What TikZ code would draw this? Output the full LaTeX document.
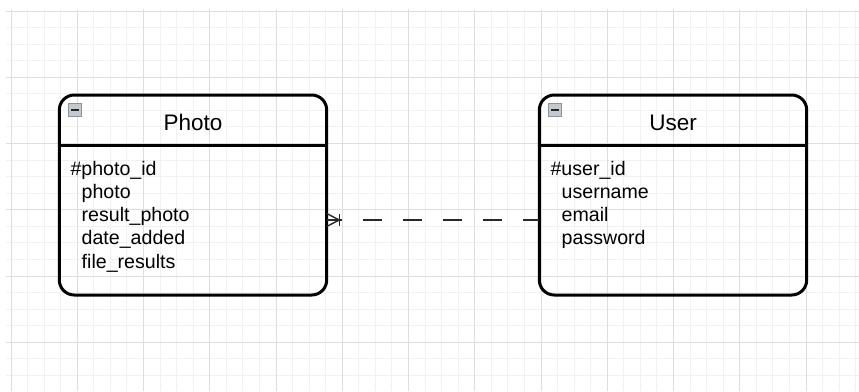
\documentclass[tikz,border=0pt]{standalone}
\usepackage{fontspec}
\setmainfont{Liberation Sans}
\definecolor{gridminor}{RGB}{241,241,241}
\definecolor{gridmajor}{RGB}{222,222,222}
\definecolor{iconfill}{RGB}{196,200,208}
\definecolor{iconedge}{RGB}{140,146,156}
\definecolor{linkcol}{RGB}{40,40,40}
\begin{document}
\begin{tikzpicture}[x=1pt,y=-1pt,
  minorline/.style={draw=gridminor,line width=1pt},
  majorline/.style={draw=gridmajor,line width=1pt},
  entity/.style={draw,line width=3pt,rounded corners=15pt,
    minimum width=267.4pt,minimum height=200pt,inner sep=0pt,outer sep=0pt},
  sepline/.style={line width=3pt},
  titletext/.style={anchor=base,inner sep=0pt,font=\fontsize{22.5}{27}\selectfont},
  attrtext/.style={anchor=base west,inner sep=0pt,font=\fontsize{19.6}{23}\selectfont},
  collapseicon/.style={draw=iconedge,fill=iconfill,line width=1pt,
    minimum size=13pt,inner sep=0pt,outer sep=0pt},
  minusbar/.style={draw=black!85,line width=2.2pt},
  link/.style={draw=linkcol,line width=1.4pt}]
\useasboundingbox (0,0) rectangle (859,391);

% background grid
\foreach \i in {0,...,51}
  \draw[minorline] ({11+16.5625*\i},9) -- ({11+16.5625*\i},391);
\foreach \j in {0,...,22}
  \draw[minorline] (6,{11+16.5625*\j}) -- (859,{11+16.5625*\j});
\foreach \i in {0,4,...,48}
  \draw[majorline] ({11+16.5625*\i},9) -- ({11+16.5625*\i},391);
\foreach \j in {0,4,...,20}
  \draw[majorline] (6,{11+16.5625*\j}) -- (859,{11+16.5625*\j});

% entity: Photo
\node[entity] (photo) at (193,195) {};
\draw[sepline] (photo.west |- 0,145.7) -- (photo.east |- 0,145.7);
\node[collapseicon] (photoicon) at (75,110) {};
\draw[minusbar] ([xshift=2.5pt]photoicon.west) -- ([xshift=-2.5pt]photoicon.east);
\node[titletext] (phototitle) at (193,130) {Photo};
\node[attrtext] (pa1) at (70.3,175)   {\#photo\_id};
\node[attrtext] (pa2) at (81.5,198.3) {photo};
\node[attrtext] (pa3) at (81.5,221.6) {result\_photo};
\node[attrtext] (pa4) at (81.5,244.9) {date\_added};
\node[attrtext] (pa5) at (81.5,268.2) {file\_results};

% entity: User
\node[entity] (user) at (673,195) {};
\draw[sepline] (user.west |- 0,145.7) -- (user.east |- 0,145.7);
\node[collapseicon] (usericon) at (555,110) {};
\draw[minusbar] ([xshift=2.5pt]usericon.west) -- ([xshift=-2.5pt]usericon.east);
\node[titletext] (usertitle) at (673,130) {User};
\node[attrtext] (ua1) at (550.3,175)   {\#user\_id};
\node[attrtext] (ua2) at (561.5,198.3) {username};
\node[attrtext] (ua3) at (561.5,221.6) {email};
\node[attrtext] (ua4) at (561.5,244.9) {password};

% relationship: many photos to one user
\coordinate (pe) at (photo.east |- 0,220);
\coordinate (uw) at (user.west |- 0,220);
\coordinate (cf) at ([xshift=12.5pt]pe);
\draw[link,dash pattern=on 19pt off 21pt,dash phase=2.4pt] (uw) -- (pe);
\draw[link] ([yshift=-6.5pt]pe) -- (cf) -- ([yshift=6.5pt]pe);
\draw[link] (cf) -- ([yshift=-6.2pt]cf) (cf) -- ([yshift=6.2pt]cf);
\end{tikzpicture}
\end{document}
